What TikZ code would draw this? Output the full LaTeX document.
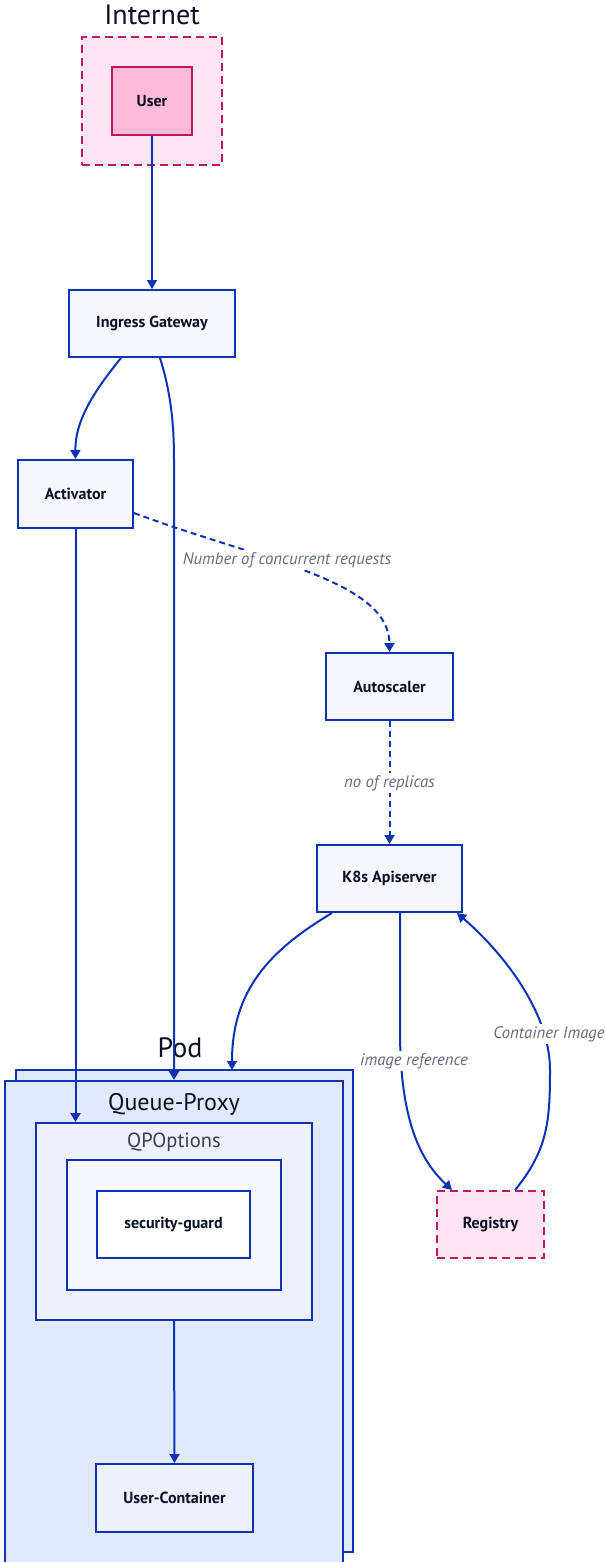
\documentclass[tikz,border=0pt]{standalone}
\usepackage{fontspec}
\setmainfont{PT Sans}
\usetikzlibrary{arrows.meta}
\definecolor{dblue}{HTML}{0D32B2}
\definecolor{ink}{HTML}{0A0F25}
\definecolor{muted}{HTML}{676C7E}
\definecolor{bsix}{HTML}{F7F8FE}
\definecolor{bfive}{HTML}{EDF0FD}
\definecolor{bfour}{HTML}{E3E9FD}
\definecolor{pinkline}{HTML}{C0185F}
\definecolor{pinkfill}{HTML}{FFE4F1}
\definecolor{pinkuser}{HTML}{FFBADA}
\tikzset{
  box/.style={draw=dblue, fill=bsix, line width=2pt, inner sep=0pt, text=ink,
    font=\bfseries\fontsize{16}{19}\selectfont},
  pinkbox/.style={box, draw=pinkline, fill=pinkfill, dashed, dash pattern=on 8pt off 5pt},
  contbox/.style={draw=dblue, line width=2pt, inner sep=0pt},
  title/.style={text=ink, inner sep=0pt},
  conn/.style={draw=dblue, line width=2pt, -{Triangle[length=9pt,width=10pt]}},
  dconn/.style={conn, dash pattern=on 6pt off 4pt},
  elabel/.style={fill=white, text=muted, inner sep=2pt, font=\itshape\fontsize{16.7}{19}\selectfont},
}
\begin{document}
\begin{tikzpicture}[x=1pt,y=-1pt]
\clip (0,0) rectangle (605,1562);
\fill[white] (0,0) rectangle (605,1562);

% Internet container
\node[pinkbox, minimum width=140pt, minimum height=128pt] (internet) at (152,101) {};
\node[title, font=\fontsize{28}{32}\selectfont] (internetlbl) at (152,15) {Internet};
\node[box, draw=pinkline, fill=pinkuser, minimum width=80pt, minimum height=68pt] (user) at (152,101) {User};

% main nodes
\node[box, minimum width=166pt, minimum height=67pt] (ingress) at (152,323.5) {Ingress Gateway};
\node[box, minimum width=115pt, minimum height=68pt] (activator) at (75.5,494) {Activator};
\node[box, minimum width=127pt, minimum height=67pt] (autoscaler) at (389.5,686.5) {Autoscaler};
\node[box, minimum width=145pt, minimum height=67pt] (k8s) at (389.5,878.5) {K8s Apiserver};
\node[pinkbox, minimum width=107pt, minimum height=67pt] (registry) at (490.5,1224.5) {Registry};

% Pod (stacked)
\node[contbox, fill=bfour, minimum width=337pt, minimum height=482pt] (podback) at (184.5,1311) {};
\node[contbox, fill=bfour, minimum width=338pt, minimum height=489pt] (pod) at (174,1325.5) {};
\node[title, font=\fontsize{28}{32}\selectfont] (podlbl) at (180,1048) {Pod};
\node[title, font=\fontsize{24}{28}\selectfont] (qplbl) at (174,1104) {Queue-Proxy};
\node[contbox, fill=bfive, minimum width=276pt, minimum height=197pt] (qpopt) at (174,1221.5) {};
\node[title, text=ink!80, font=\fontsize{20.5}{24}\selectfont] (qpoptlbl) at (174,1142) {QPOptions};
\node[contbox, fill=bsix, minimum width=214pt, minimum height=130pt] (inner) at (174,1225) {};
\node[box, fill=white, minimum width=153pt, minimum height=67pt] (guard) at (173.5,1224.5) {security-guard};
\node[box, fill=bfive, minimum width=157pt, minimum height=68pt] (ucont) at (174.5,1498) {User-Container};

% connectors
\draw[conn] (user.south) -- (ingress.north);
\draw[conn] ([xshift=-31pt]ingress.south) .. controls (95,390) and (75,420) .. (activator.north);
\draw[conn] ([xshift=8pt]ingress.south) .. controls (170,390) and (174,420) .. (174,460) -- (pod.north);
\draw[conn] (activator.south) -- (activator.south |- qpopt.north);
\draw[dconn] ([yshift=-19pt]activator.east) .. controls (260,560) and (389,580) .. (autoscaler.north);
\node[elabel] (ncr) at (287,560) {Number of concurrent requests};
\draw[dconn] (autoscaler.south) -- (k8s.north);
\node[elabel] (nor) at (389.5,783) {no of replicas};
\draw[conn] ([xshift=-57.5pt]k8s.south) .. controls (270,950) and (232,990) .. (232,1070);
\draw[conn] ([xshift=10.5pt]k8s.south) -- (400,1030) .. controls (400,1120) and (420,1160) .. ([xshift=-38.5pt]registry.north);
\node[elabel] (imgref) at (414,1061) {image reference};
\draw[conn] ([xshift=24.5pt]registry.north) .. controls (548,1150) and (550,1120) .. (550,1070) .. controls (550,1010) and (500,950) .. ([xshift=67.5pt]k8s.south);
\node[elabel] (cimg) at (549,1034) {Container Image};
\draw[conn] (qpopt.south) -- (ucont.north);
\end{tikzpicture}
\end{document}
